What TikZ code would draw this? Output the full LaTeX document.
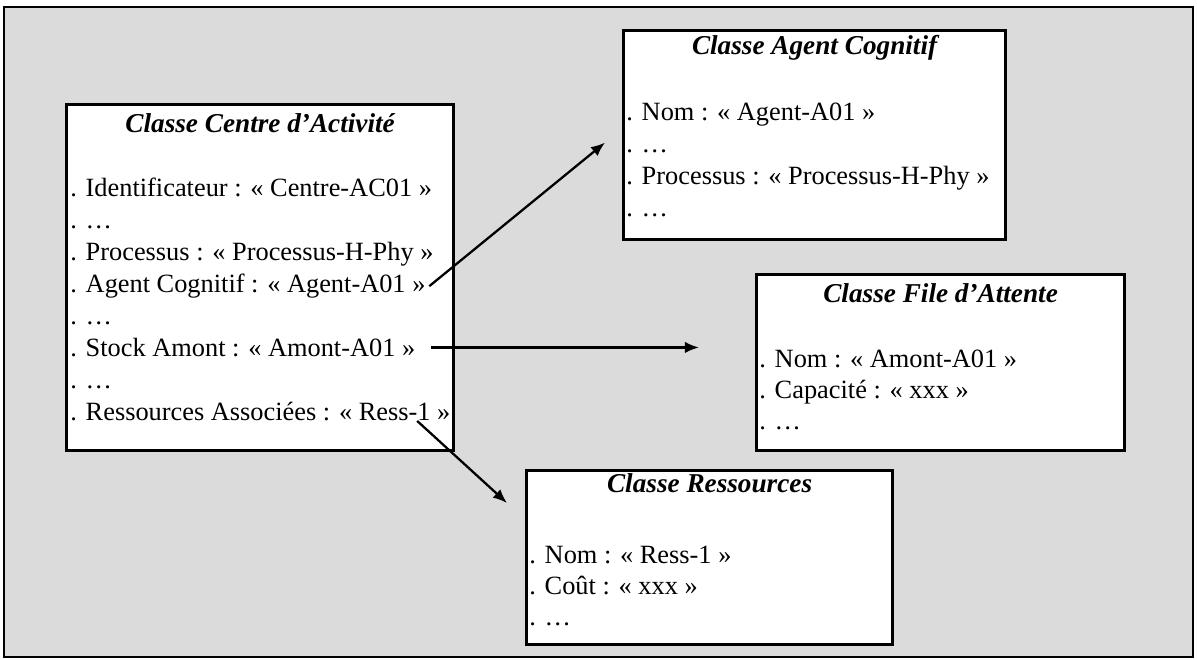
\documentclass[tikz,border=0pt]{standalone}
\usepackage{fontspec}
\setmainfont{Liberation Serif}
\usetikzlibrary{arrows.meta,calc,positioning}

\begin{document}
\begin{tikzpicture}[
    classbox/.style={draw,line width=1.8pt,fill=white,inner sep=0pt,anchor=north west},
    ctitle/.style={anchor=base,inner sep=0pt,font=\fontsize{15.5}{18}\selectfont\bfseries\itshape},
    attr/.style={anchor=base west,inner sep=0pt,font=\fontsize{15}{18}\selectfont},
    link/.style={-{Latex[length=8pt,width=6.5pt]},line width=1.3pt}]
  \useasboundingbox (0,0) rectangle (23.94,-13.2);
  \draw[line width=1.4pt,fill=black!14] (0.08,-0.14) rectangle (23.86,-13.14);

  % the four classes
  \node[classbox,minimum width=7.74cm,minimum height=6.92cm] (centre) at (1.30,-2.06) {};
  \node[classbox,minimum width=7.64cm,minimum height=4.18cm] (agent) at (12.44,-0.58) {};
  \node[classbox,minimum width=7.36cm,minimum height=3.52cm] (file) at (15.10,-5.46) {};
  \node[classbox,minimum width=7.32cm,minimum height=3.48cm] (ress) at (10.50,-9.38) {};

  \node[ctitle] (tcentre) at ([yshift=-0.6cm]centre.north) {Classe Centre d’Activité};
  \node[ctitle] (tagent) at ([yshift=-0.52cm]agent.north) {Classe Agent Cognitif};
  \node[ctitle] (tfile) at ([yshift=-0.58cm]file.north) {Classe File d’Attente};
  \node[ctitle] (tress) at ([yshift=-0.46cm]ress.north) {Classe Ressources};

  \foreach \txt [count=\i] in {{. Identificateur : « Centre-AC01 »},{. …},
      {. Processus : « Processus-H-Phy »},{. Agent Cognitif : « Agent-A01 »},{. …},
      {. Stock Amont : « Amont-A01 »},{. …},{. Ressources Associées : « Ress-1 »}}
    \node[attr] (c\i) at (1.40,{-3.30-0.638*\i}) {\txt};
  \foreach \txt [count=\i] in {{. Nom : « Agent-A01 »},{. …},
      {. Processus : « Processus-H-Phy »},{. …}}
    \node[attr] (a\i) at (12.52,{-1.78-0.64*\i}) {\txt};
  \foreach \txt [count=\i] in {{. Nom : « Amont-A01 »},{. Capacité : « xxx »},{. …}}
    \node[attr] (f\i) at (15.18,{-6.72-0.62*\i}) {\txt};
  \foreach \txt [count=\i] in {{. Nom : « Ress-1 »},{. Coût : « xxx »},{. …}}
    \node[attr] (r\i) at (10.58,{-10.64-0.62*\i}) {\txt};

  % links
  \coordinate (agentin) at ([xshift=-0.34cm,yshift=-0.15cm]agent.west);
  \coordinate (ressout) at ([xshift=-0.67cm]c8.south east);
  \coordinate (ressin) at ([xshift=-0.36cm,yshift=-0.68cm]ress.north west);
  \draw[link] ([xshift=2pt]c4.east) -- (agentin);
  \draw[link] ([xshift=0.3cm]c6.east) -- ([xshift=-1.12cm]c6.east -| file.west);
  \draw[link] (ressout) -- (ressin);
\end{tikzpicture}
\end{document}
